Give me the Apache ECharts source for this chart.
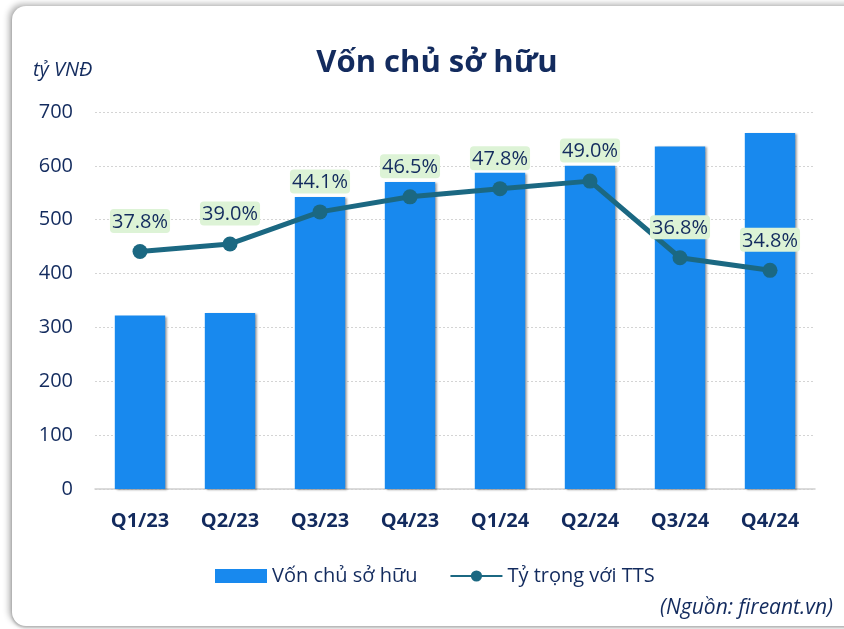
<!DOCTYPE html>
<html>
<head>
<meta charset="utf-8">
<script src="https://cdn.jsdelivr.net/npm/echarts@6/dist/echarts.min.js"></script>
<style>
  html, body { margin: 0; padding: 0; background: #fff; }
  .wrap { position: relative; width: 844px; height: 629px; overflow: hidden; }
  .card {
    position: absolute; left: 12px; top: 6px; width: 860px; height: 620px;
    border-radius: 14px; background: #fff;
    box-shadow: -3px -2px 6px rgba(0,0,0,0.3), 0 2px 3px rgba(0,0,0,0.25);
  }
  #chart { position: absolute; left: 0; top: 0; width: 844px; height: 629px; }
</style>
</head>
<body>
<div class="wrap">
  <div class="card"></div>
  <div id="chart"></div>
</div>
<script>
const categories = ["Q1/23", "Q2/23", "Q3/23", "Q4/23", "Q1/24", "Q2/24", "Q3/24", "Q4/24"];
const equity = [322, 327, 542, 570, 587, 600, 636, 661];
const shareOfAssets = [37.8, 39.0, 44.1, 46.5, 47.8, 49.0, 36.8, 34.8];
const yTicks = [0, 100, 200, 300, 400, 500, 600, 700];

const navy = "#132B5E";
const font = "'Open Sans', 'Noto Sans', sans-serif";

const myChart = echarts.init(document.getElementById("chart"));
const option = {
  backgroundColor: "transparent",
  textStyle: { fontFamily: font },
  title: [
    {
      text: "Vốn chủ sở hữu",
      left: 432,
      top: 43,
      textAlign: "center",
      textStyle: { color: navy, fontSize: 31, fontWeight: "bold", fontFamily: font },
    },
    {
      text: "tỷ VNĐ",
      left: 28,
      top: 55,
      textStyle: { color: navy, fontSize: 20, fontStyle: "italic", fontWeight: "normal", fontFamily: font },
    },
    {
      text: "(Nguồn: fireant.vn)",
      right: 6,
      top: 593,
      textStyle: { color: navy, fontSize: 21, fontStyle: "italic", fontWeight: "normal", fontFamily: font },
    },
  ],
  legend: {
    left: 210,
    top: 561,
    itemGap: 32,
    itemWidth: 52,
    itemHeight: 14,
    textStyle: { color: navy, fontSize: 20, fontFamily: font },
    data: [
      { name: "Vốn chủ sở hữu", icon: "rect" },
      { name: "Tỷ trọng với TTS" },
    ],
  },
  grid: { left: 95, right: 29, top: 112, bottom: 140 },
  xAxis: {
    type: "category",
    data: categories,
    axisTick: { show: false },
    axisLine: { lineStyle: { color: "#D0D0D0", width: 1.5 } },
    axisLabel: { color: navy, fontSize: 20, fontWeight: "bold", margin: 22, fontFamily: font },
  },
  yAxis: [
    {
      type: "value",
      min: yTicks[0],
      max: yTicks[yTicks.length - 1],
      interval: 100,
      axisLabel: { color: navy, fontSize: 20, margin: 22, fontFamily: font },
      splitLine: { lineStyle: { color: "#D4D4D4", type: [2, 2] } },
      axisLine: { show: false },
      axisTick: { show: false },
    },
    {
      type: "value",
      min: 0,
      max: 60,
      show: false,
      splitLine: { show: false },
    },
  ],
  series: [
    {
      name: "Vốn chủ sở hữu",
      type: "bar",
      data: equity,
      barWidth: "56%",
      itemStyle: {
        color: "#1889EE",
        shadowColor: "rgba(0,0,0,0.35)",
        shadowOffsetX: 2,
        shadowOffsetY: 1,
        shadowBlur: 2,
      },
    },
    {
      name: "Tỷ trọng với TTS",
      type: "line",
      yAxisIndex: 1,
      data: shareOfAssets,
      symbol: "circle",
      symbolSize: 15,
      lineStyle: { color: "#1B6882", width: 5 },
      itemStyle: { color: "#1B6882" },
      z: 5,
      label: {
        show: true,
        position: "top",
        distance: 11,
        formatter: (p) => p.value.toFixed(1) + "%",
        color: navy,
        fontSize: 20,
        fontFamily: font,
        backgroundColor: "#DDF3D6",
        borderRadius: 4,
        padding: [3, 2, 1, 2],
      },
    },
  ],
};
myChart.setOption(option);
</script>
</body>
</html>
